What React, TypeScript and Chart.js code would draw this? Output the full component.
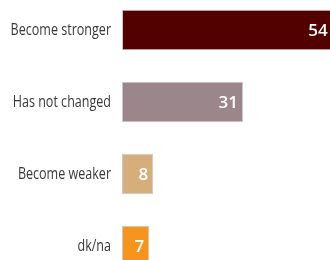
import React, { useEffect, useRef } from "react";
import { Chart, registerables } from "chart.js";

Chart.register(...registerables);

const categories = ["Become stronger", "Has not changed", "Become weaker", "dk/na"];
const values = [54, 31, 8, 7];
const barColors = ["#520000", "#9b878b", "#d5ae7b", "#f7941d"];

const condensedLabels = {
  id: "condensedLabels",
  afterDraw(chart: any) {
    const ctx = chart.ctx;
    const y = chart.scales.y;
    ctx.save();
    ctx.fillStyle = "#383838";
    ctx.font = "16.5px 'Open Sans', sans-serif";
    ctx.textAlign = "right";
    ctx.textBaseline = "middle";
    categories.forEach((label, i) => {
      const py = y.getPixelForValue(i);
      ctx.save();
      ctx.translate(y.right - 11, py);
      ctx.scale(0.76, 1);
      ctx.fillText(label, 0, 0);
      ctx.restore();
    });
    ctx.restore();
  },
};

const valueLabels = {
  id: "valueLabels",
  afterDatasetsDraw(chart: any) {
    const ctx = chart.ctx;
    const meta = chart.getDatasetMeta(0);
    ctx.save();
    ctx.fillStyle = "#ffffff";
    ctx.font = "600 17px 'Open Sans', sans-serif";
    ctx.textAlign = "right";
    ctx.textBaseline = "middle";
    meta.data.forEach((bar: any, i: number) => {
      ctx.fillText(String(values[i]), bar.x - 5, bar.y + 1);
    });
    ctx.restore();
  },
};

export default function App() {
  const ref = useRef<HTMLCanvasElement>(null);
  useEffect(() => {
    if (!ref.current) return;
    const chart = new Chart(ref.current, {
      type: "bar",
      data: {
        labels: categories,
        datasets: [
          {
            data: values,
            backgroundColor: barColors,
            borderColor: "#c9c9c9",
            borderWidth: 1,
            borderSkipped: false,
            barPercentage: 0.56,
            categoryPercentage: 1,
          },
        ],
      },
      options: {
        indexAxis: "y",
        animation: false,
        responsive: true,
        maintainAspectRatio: false,
        layout: { padding: 0 },
        plugins: { legend: { display: false }, tooltip: { enabled: false } },
        scales: {
          x: { display: false, min: 0, max: 53.8 },
          y: {
            grid: { display: false, drawTicks: false },
            border: { display: false },
            ticks: { display: false },
            afterFit: (s: any) => {
              s.width = 122;
              s.paddingTop = 0;
              s.paddingBottom = 0;
            },
          },
        },
      },
      plugins: [valueLabels, condensedLabels],
    });
    return () => chart.destroy();
  }, []);
  return (
    <div style={{ position: "fixed", left: 0, top: -6, width: 332, height: 288 }}>
      <canvas ref={ref} />
    </div>
  );
}
